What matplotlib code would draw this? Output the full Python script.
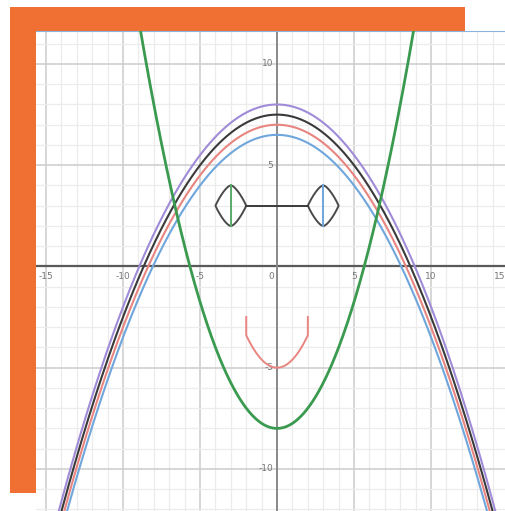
import numpy as np
import matplotlib
matplotlib.use("Agg")
import matplotlib.pyplot as plt
from matplotlib.patches import Rectangle

# downward parabolas y = top - 0.1 x^2
arc_tops = [8.0, 7.5, 7.0, 6.5]
arc_colors = ["#a08bd8", "#3a3a3a", "#e88580", "#6fa6dc"]
arc_a = 0.1

# green parabola y = x^2/4 - 8
green_a = 0.25
green_c = -8.0

# face
eye_centers = [(-3.0, 3.0), (3.0, 3.0)]
eye_line_colors = ["#5aab6a", "#6fa6dc"]
bridge_x = [-2.0, 2.0]
bridge_y = [3.0, 3.0]
mouth_c = -5.0
mouth_a = 0.4
mouth_end_x = 2.0
mouth_top = -2.5

x_ticks = [-15, -10, -5, 5, 10, 15]
y_ticks = [-10, -5, 5, 10]

W, H = 505, 511
fig = plt.figure(figsize=(W / 100, H / 100), dpi=100)
fig.patch.set_facecolor("white")

# orange block behind the graph
bg = fig.add_axes([0, 0, 1, 1], zorder=0)
bg.set_xlim(0, W)
bg.set_ylim(H, 0)
bg.axis("off")
bg.add_patch(Rectangle((10, 7), 455, 486, facecolor="#f07033", edgecolor="none"))

ax = fig.add_axes([36 / W, 0, (W - 36) / W, 480 / H], zorder=1)
ax.set_facecolor("white")
ax.set_xlim(-15.65, 14.8)
ax.set_ylim(-12.08, 11.63)
for s in ["left", "right", "bottom"]:
    ax.spines[s].set_visible(False)
ax.spines["top"].set_color("#8ab4dd")
ax.spines["top"].set_linewidth(0.8)
ax.set_xticks([])
ax.set_yticks([])

# grid
for v in range(-16, 16):
    major = v % 5 == 0
    ax.axvline(v, color="#cfcfcf" if major else "#ececec", lw=1.2 if major else 0.9, zorder=1)
for v in range(-13, 13):
    major = v % 5 == 0
    ax.axhline(v, color="#cfcfcf" if major else "#ececec", lw=1.2 if major else 0.9, zorder=1)
ax.axhline(0, color="#5a5a5a", lw=1.6, zorder=2)
ax.axvline(0, color="#8a8a8a", lw=1.4, zorder=2)

# tick labels
for t in x_ticks:
    if t == x_ticks[-1]:
        ax.text(14.8, -0.25, str(t), ha="right", va="top", fontsize=6.5, color="#777777", zorder=3)
    else:
        ax.text(t, -0.25, str(t), ha="center", va="top", fontsize=6.5, color="#777777", zorder=3)
ax.text(-0.2, -0.25, "0", ha="right", va="top", fontsize=6.5, color="#777777", zorder=3)
for t in y_ticks:
    ax.text(-0.25, t, str(t), ha="right", va="center", fontsize=6.5, color="#777777", zorder=3)

x = np.linspace(-16, 15, 800)
for top, c in zip(arc_tops, arc_colors):
    ax.plot(x, top - arc_a * x ** 2, color=c, lw=1.5, zorder=4)
ax.plot(x, green_a * x ** 2 + green_c, color="#3a9a4f", lw=2.0, zorder=5)

# eyes: pointed at the sides, rounded at top and bottom
dy = np.linspace(-1, 1, 201)
w = 0.6 * (1 - np.abs(dy)) + 0.4 * np.sqrt(1 - dy ** 2)
for (cx, cy), lc in zip(eye_centers, eye_line_colors):
    ex = np.concatenate([cx + w, cx - w[::-1], [cx + w[0]]])
    ey = np.concatenate([cy + dy, cy + dy[::-1], [cy + dy[0]]])
    ax.plot(ex, ey, color="#4a4a4a", lw=1.4, zorder=6)
    ax.plot([cx, cx], [cy - 1, cy + 1], color=lc, lw=1.4, zorder=6)
ax.plot(bridge_x, bridge_y, color="#3a3a3a", lw=1.4, zorder=6)

# mouth
mx = np.linspace(-mouth_end_x, mouth_end_x, 100)
my = mouth_c + mouth_a * mx ** 2
mx = np.concatenate([[-mouth_end_x], mx, [mouth_end_x]])
my = np.concatenate([[mouth_top], my, [mouth_top]])
ax.plot(mx, my, color="#e88580", lw=1.4, zorder=6)

fig.savefig("out.png", dpi=100)
